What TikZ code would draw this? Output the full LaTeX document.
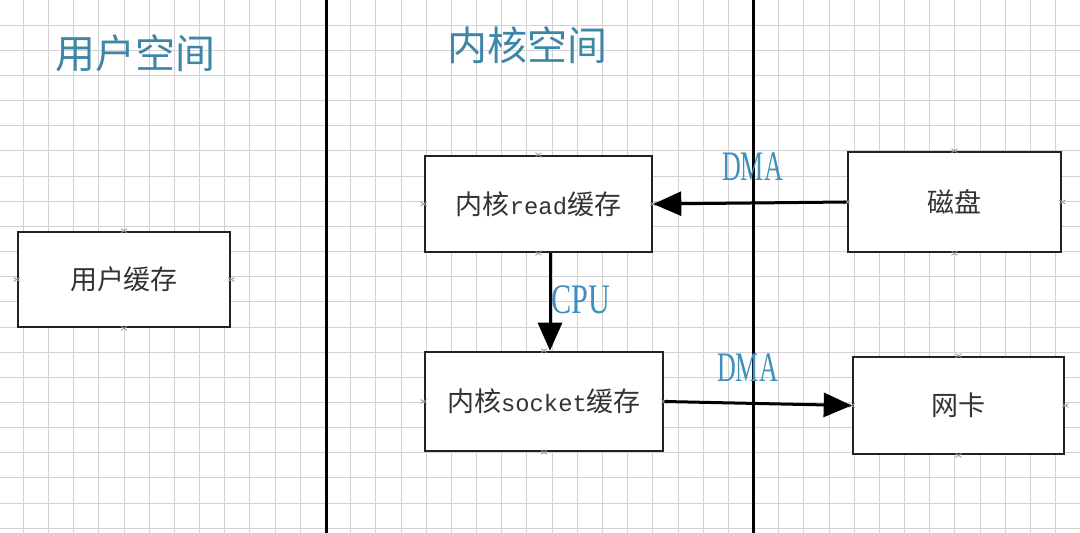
\documentclass[tikz,border=0pt]{standalone}
\usepackage{fontspec}
\setmainfont{Liberation Serif}
\newfontfamily\cjk{Noto Sans CJK SC}
\newfontfamily\latm[Scale=0.88]{Liberation Mono}
\usetikzlibrary{arrows.meta}
\definecolor{gridc}{HTML}{D2D2D2}
\definecolor{titlec}{HTML}{3E86A8}
\definecolor{lblc}{HTML}{3F8FBF}
\definecolor{boxc}{HTML}{222222}
\definecolor{txtc}{HTML}{333333}
\definecolor{markc}{HTML}{9A9A9A}
\tikzset{
  gridline/.style={gridc, line width=0.9pt},
  sep/.style={black, line width=3pt},
  bufbox/.style={draw=boxc, fill=white, line width=2.6pt, inner sep=0pt, text=txtc, font=\fontsize{27}{30}\selectfont},
  flow/.style={line width=3pt, -{Triangle[length=28pt,width=24pt]}},
  title/.style={text=titlec, font=\cjk\fontsize{40}{44}\selectfont, inner sep=0pt},
  lbl/.style={text=lblc, font=\fontsize{42}{44}\selectfont, inner sep=0pt},
  cmark/.style={markc, line width=0.8pt}
}
\begin{document}
\begin{tikzpicture}[x=1pt,y=-1pt]
\path[fill=white,use as bounding box] (0,0) rectangle (1080,533);
% grid
\foreach \i in {0,...,43} \draw[gridline] ({-1.9+25.18*\i},0) -- ++(0,533);
\foreach \j in {1,...,21} \draw[gridline] (0,{25.15*\j}) -- ++(1080,0);
% separators
\draw[sep] (326,0) -- (326,533);
\draw[sep] (753,0) -- (753,533);
% titles
\node[title] (t1) at (135.5,53) {用户空间};
\node[title] (t2) at (527,45) {内核空间};
% boxes
\node[bufbox, minimum width=212pt, minimum height=95pt] (u) at (124,279.5) {\cjk 用户缓存};
\node[bufbox, minimum width=227pt, minimum height=96pt] (r) at (538.5,204) {{\cjk 内核}{\latm read}{\cjk 缓存}};
\node[bufbox, minimum width=238pt, minimum height=99pt] (s) at (544,401.5) {{\cjk 内核}{\latm socket}{\cjk 缓存}};
\node[bufbox, minimum width=213pt, minimum height=100pt] (d) at (954.5,202) {\cjk 磁盘};
\node[bufbox, minimum width=211pt, minimum height=97pt] (n) at (958.5,405.5) {\cjk 网卡};
% connection marks
\foreach \b in {u,r,s,d,n}
  \foreach \a in {north,south,east,west}
    \draw[cmark] (\b.\a) ++(-3,-2) -- ++(6,4) ++(0,-4) -- ++(-6,4);
% connectors
\coordinate (cx) at (550,0);
\draw[flow] (d.west) -- (r.east);
\draw[flow] (r.south -| cx) -- (s.north -| cx);
\draw[flow] (s.east) -- (n.west);
% labels
\node[lbl] (l1) at (752.5,167) {\scalebox{0.62}[1]{DMA}};
\node[lbl] (l2) at (581,300) {\scalebox{0.72}[1]{CPU}};
\node[lbl] (l3) at (747.5,368) {\scalebox{0.62}[1]{DMA}};
\end{tikzpicture}
\end{document}
